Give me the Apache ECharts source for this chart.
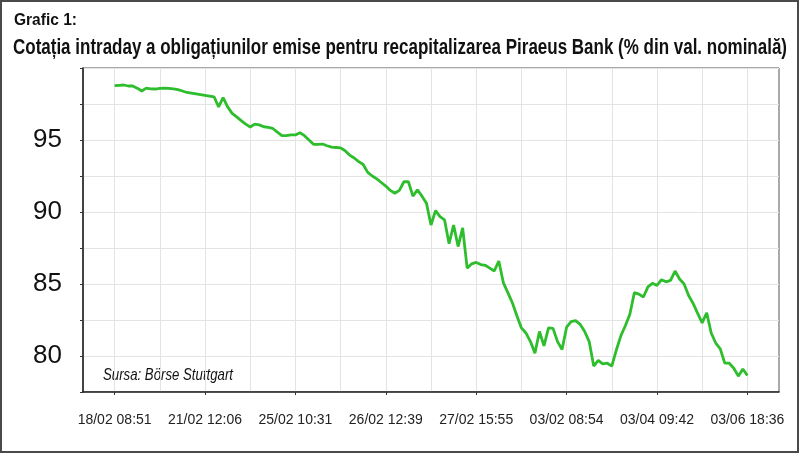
<!DOCTYPE html>
<html>
<head>
<meta charset="utf-8">
<script src="https://cdn.jsdelivr.net/npm/echarts@6/dist/echarts.min.js"></script>
<style>
  html, body { margin: 0; padding: 0; background: #fff; }
  #chart { width: 800px; height: 454px; }
</style>
</head>
<body>
<div id="chart"></div>
<script>
// etichete pe axa X (o eticheta la fiecare 20 de puncte)
var tickLabels = ["18/02 08:51", "21/02 12:06", "25/02 10:31", "26/02 12:39",
  "27/02 15:55", "03/02 08:54", "03/04 09:42", "03/06 18:36"];

// cotatia (% din val. nominala)
var prices = [
  98.77, 98.8, 98.82, 98.75, 98.75, 98.6, 98.4, 98.6, 98.55, 98.54,
  98.58, 98.6, 98.58, 98.55, 98.5, 98.4, 98.3, 98.25, 98.2, 98.15,
  98.1, 98.05, 98.0, 97.3, 97.95, 97.3, 96.85, 96.6, 96.35, 96.1,
  95.9, 96.1, 96.05, 95.92, 95.88, 95.8, 95.55, 95.3, 95.3, 95.35,
  95.35, 95.5, 95.3, 95.0, 94.7, 94.7, 94.72, 94.6, 94.5, 94.48,
  94.45, 94.25, 93.95, 93.75, 93.5, 93.3, 92.75, 92.5, 92.3, 92.05,
  91.8, 91.5, 91.3, 91.5, 92.1, 92.1, 91.1, 91.55, 91.1, 90.6,
  89.1, 90.1, 89.68, 89.45, 87.8, 89.1, 87.6, 88.9, 86.1, 86.4,
  86.5, 86.35, 86.3, 86.1, 85.9, 86.6, 85.1, 84.4, 83.7, 82.8,
  81.95, 81.6, 81.0, 80.2, 81.7, 80.7, 81.95, 81.92, 81.0, 80.45,
  82.0, 82.38, 82.45, 82.2, 81.7, 81.0, 79.3, 79.7, 79.45, 79.5,
  79.3, 80.4, 81.4, 82.1, 82.9, 84.4, 84.3, 84.1, 84.8, 85.05,
  84.9, 85.3, 85.15, 85.25, 85.9, 85.35, 85.0, 84.2, 83.65, 82.96,
  82.3, 83.0, 81.6, 80.9, 80.5, 79.5, 79.5, 79.15, 78.6, 79.1,
  78.65
];

var pad = 7;          // categorii goale la capete
var step = 20;        // puncte intre doua etichete

var categories = [];
var seriesData = [];
for (var i = -pad; i < prices.length + pad; i++) {
  if (i >= 0 && i < prices.length) {
    categories.push(i % step === 0 ? tickLabels[i / step] : String(i));
    seriesData.push(prices[i]);
  } else {
    categories.push("p" + i);
    seriesData.push(null);
  }
}

// fontul din original e condensat -> il strangem pe orizontala
var ctx = document.createElement("canvas").getContext("2d");
function squeezed(text, font, x, y, width) {
  ctx.font = font;
  var w = ctx.measureText(text).width;
  return {
    type: "text",
    x: x,
    y: y,
    scaleX: width / w,
    style: { text: text, font: font, fill: "#111", verticalAlign: "middle" }
  };
}

var sans = "'Liberation Sans', Arial, sans-serif";

var myChart = echarts.init(document.getElementById("chart"));
var option = {
  animation: false,
  grid: {
    left: 83,
    right: 21,
    top: 68,
    bottom: 62,
    show: true,
    borderColor: "#555",
    borderWidth: 1
  },
  xAxis: {
    type: "category",
    boundaryGap: false,
    data: categories,
    axisLine: { lineStyle: { color: "#222", width: 1.5 } },
    axisTick: {
      length: 3,
      lineStyle: { color: "#333" },
      interval: function (idx) {
        return idx >= pad && idx < pad + prices.length && (idx - pad) % step === 0;
      }
    },
    axisLabel: {
      margin: 21,
      fontFamily: sans,
      fontSize: 14,
      color: "#222",
      interval: function (idx) {
        return idx >= pad && idx < pad + prices.length && (idx - pad) % step === 0;
      }
    },
    splitLine: {
      show: true,
      lineStyle: { color: "#e3e3e3", width: 1 },
      interval: function (idx) {
        return idx >= pad && (idx - pad) % (step / 2) === 0;
      }
    }
  },
  yAxis: {
    type: "value",
    min: 77.5,
    max: 100,
    interval: 2.5,
    axisLine: { show: true, lineStyle: { color: "#222", width: 1.5 } },
    axisTick: { show: true, length: 3, lineStyle: { color: "#333" } },
    axisLabel: {
      margin: 21,
      fontFamily: sans,
      fontSize: 26,
      color: "#111",
      formatter: function (v) {
        return (v % 5 === 0 && v < 100) ? String(v) : "";
      }
    },
    splitLine: { show: true, lineStyle: { color: "#e3e3e3", width: 1 } }
  },
  graphic: [
    {
      type: "rect",
      shape: { x: 1, y: 1, width: 797, height: 451 },
      style: { fill: "none", stroke: "#4a4a4a", lineWidth: 2 }
    },
    squeezed("Grafic 1:", "bold 17px " + sans, 14, 20, 63),
    squeezed("Cotația intraday a obligațiunilor emise pentru recapitalizarea Piraeus Bank (% din val. nominală)",
      "bold 22px " + sans, 13, 48, 774),
    squeezed("Sursa: Börse Stuttgart", "italic 17px " + sans, 103, 375, 130)
  ],
  series: [
    {
      type: "line",
      data: seriesData,
      showSymbol: false,
      connectNulls: false,
      lineStyle: { color: "#2dbd2d", width: 2.8 },
      itemStyle: { color: "#2dbd2d" }
    }
  ]
};
option && myChart.setOption(option);
</script>
</body>
</html>
